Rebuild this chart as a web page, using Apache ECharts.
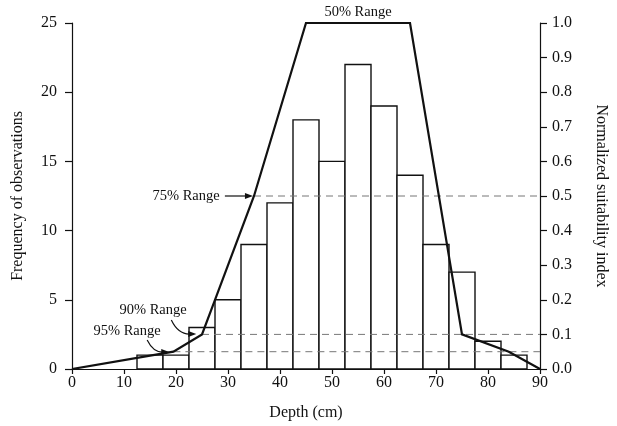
<!DOCTYPE html>
<html>
<head>
<meta charset="utf-8">
<script src="https://cdn.jsdelivr.net/npm/echarts@6/dist/echarts.min.js"></script>
<style>html,body{margin:0;padding:0;background:#fff;}#c{width:617px;height:426px;}</style>
</head>
<body>
<div id="c"></div>
<script>
// Histogram: bin start (cm), bin width, frequency
const binStarts = [12.5, 17.5, 22.5, 27.5, 32.5, 37.5, 42.5, 47.5, 52.5, 57.5, 62.5, 67.5, 72.5, 77.5, 82.5];
const binWidth = 5;
const frequencies = [1, 1, 3, 5, 9, 12, 18, 15, 22, 19, 14, 9, 7, 2, 1];

// Suitability curve (depth, normalized index)
const curveDepth = [0, 19.5, 25, 27.5, 35, 45, 65, 75, 84, 90];
const curveIndex = [0, 0.05, 0.1, 0.2, 0.5, 1.0, 1.0, 0.1, 0.05, 0];

// Range reference lines
const rangeLevels = [0.5, 0.1, 0.05];
const rangeStarts = [35, 25, 19.5];
const rangeEnd = 90;

// Annotations
const annLabels = ['50% Range', '75% Range', '90% Range', '95% Range'];
const annX = [55, 28.4, 15.6, 10.6];
const annY = [1.0, 0.5, 0.1705, 0.108];
const annAlign = ['center', 'right', 'center', 'center'];
const annVAlign = ['bottom', 'middle', 'middle', 'middle'];
// arrows: [startX, startY, ctrlX, ctrlY, endX, endY] (null = none)
const annArrows = [
  null,
  [29.4, 0.5, 32, 0.5, 34.8, 0.5],
  [19.1, 0.1416, 20.4, 0.101, 23.9, 0.101],
  [14.45, 0.0838, 15.6, 0.049, 18.7, 0.049]
];

// Axis ticks
const xMin = 0, xMax = 90, xStep = 10;
const yLeftMin = 0, yLeftMax = 25, yLeftStep = 5;
const yRightMin = 0, yRightMax = 1, yRightStep = 0.1;

const FONT = 'Liberation Serif';
const INK = '#111';

const chart = echarts.init(document.getElementById('c'), null, {renderer: 'canvas'});

const histData = binStarts.map((s, i) => [s, s + binWidth, frequencies[i]]);
const curveData = curveDepth.map((d, i) => [d, curveIndex[i]]);
const rangeSeries = rangeLevels.map((lv, i) => ({
  type: 'line',
  xAxisIndex: 0,
  yAxisIndex: 1,
  data: [[rangeStarts[i], lv], [rangeEnd, lv]],
  showSymbol: false,
  symbol: 'none',
  silent: true,
  z: 4,
  lineStyle: {color: '#777', width: 1, type: [7, 5]}
}));

const axisCommon = {
  axisLine: {show: true, lineStyle: {color: INK, width: 1.2}},
  axisTick: {show: true, inside: false, length: 7, lineStyle: {color: INK, width: 1.2}},
  splitLine: {show: false},
  nameTextStyle: {fontFamily: FONT, fontSize: 16, color: INK},
};

const option = {
  animation: false,
  backgroundColor: '#fff',
  grid: {left: 72, right: 76, top: 23, bottom: 57},
  xAxis: Object.assign({}, axisCommon, {
    type: 'value', min: xMin, max: xMax, interval: xStep,
    name: 'Depth (cm)', nameLocation: 'middle', nameGap: 36,
    axisTick: {show: true, length: 5, lineStyle: {color: INK, width: 1.2}},
    axisLabel: {fontFamily: FONT, fontSize: 16, color: INK, margin: 6}
  }),
  yAxis: [
    Object.assign({}, axisCommon, {
      type: 'value', position: 'left', min: yLeftMin, max: yLeftMax, interval: yLeftStep,
      name: 'Frequency of observations', nameLocation: 'middle', nameGap: 46, nameRotate: 90,
      axisLabel: {fontFamily: FONT, fontSize: 16, color: INK, margin: 15}
    }),
    Object.assign({}, axisCommon, {
      type: 'value', position: 'right', min: yRightMin, max: yRightMax, interval: yRightStep,
      name: 'Normalized suitability index', nameLocation: 'middle', nameGap: 53, nameRotate: -90,
      axisLabel: {fontFamily: FONT, fontSize: 16, color: INK, margin: 12,
        formatter: v => v.toFixed(1)}
    })
  ],
  series: [
    {
      type: 'custom',
      xAxisIndex: 0, yAxisIndex: 0,
      data: histData,
      z: 2,
      renderItem: function (params, api) {
        const p0 = api.coord([api.value(0), 0]);
        const p1 = api.coord([api.value(1), api.value(2)]);
        return {
          type: 'rect',
          shape: {x: p0[0], y: p1[1], width: p1[0] - p0[0], height: p0[1] - p1[1]},
          style: {fill: '#fff', stroke: INK, lineWidth: 1.4}
        };
      }
    },
    ...rangeSeries,
    {
      type: 'line',
      xAxisIndex: 0, yAxisIndex: 1,
      data: curveData,
      showSymbol: false, symbol: 'none',
      z: 5,
      lineStyle: {color: INK, width: 2.2, join: 'miter'}
    },
    {
      type: 'custom',
      xAxisIndex: 0, yAxisIndex: 1,
      data: annLabels.map((l, i) => [annX[i], annY[i], i]),
      z: 6,
      silent: true,
      renderItem: function (params, api) {
        const i = params.dataIndex;
        const p = api.coord([annX[i], annY[i]]);
        const children = [{
          type: 'text',
          x: p[0], y: p[1] + (annVAlign[i] === 'bottom' ? -3 : 0),
          style: {text: annLabels[i], fontFamily: FONT, fontSize: 14.5, fill: INK,
            align: annAlign[i], verticalAlign: annVAlign[i]}
        }];
        const a = annArrows[i];
        if (a) {
          const s = api.coord([a[0], a[1]]);
          const c = api.coord([a[2], a[3]]);
          const e = api.coord([a[4], a[5]]);
          const tipLen = 8, half = 3;
          children.push({
            type: 'bezierCurve',
            shape: {x1: s[0], y1: s[1], cpx1: c[0], cpy1: c[1], x2: e[0] - tipLen + 1, y2: e[1]},
            style: {stroke: INK, lineWidth: 1.2, fill: null}
          });
          children.push({
            type: 'polygon',
            shape: {points: [[e[0], e[1]], [e[0] - tipLen, e[1] - half], [e[0] - tipLen, e[1] + half]]},
            style: {fill: INK}
          });
        }
        return {type: 'group', children: children};
      }
    }
  ]
};
chart.setOption(option);
</script>
</body>
</html>
